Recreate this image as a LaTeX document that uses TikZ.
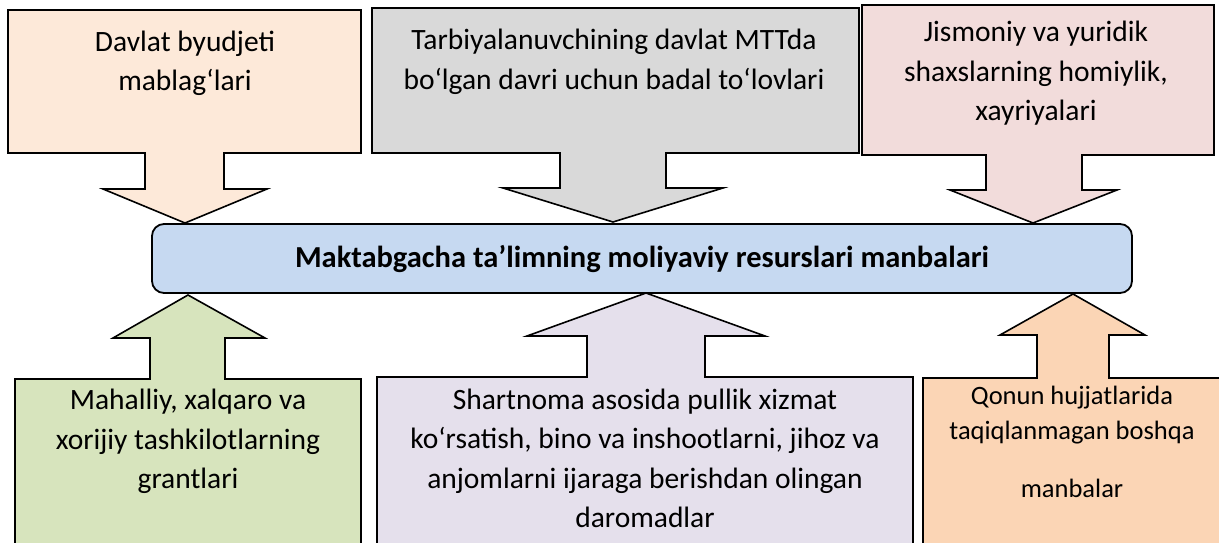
\documentclass[tikz,border=0pt]{standalone}
\usepackage{fontspec}
\setmainfont{Carlito}
\usepackage{tikz}
\usetikzlibrary{positioning}
\definecolor{peach}{HTML}{FDE9D9}
\definecolor{greybox}{HTML}{D9D9D9}
\definecolor{rosebox}{HTML}{F2DCDB}
\definecolor{mainblue}{HTML}{C6D9F1}
\definecolor{greenbox}{HTML}{D7E4BD}
\definecolor{lilacbox}{HTML}{E5E0EC}
\definecolor{orangebox}{HTML}{FBD5B5}
\tikzset{%
  outline/.style={draw, line width=1.6pt, line join=miter},
  srctext/.style={align=center, inner sep=0pt, anchor=north, font=\fontsize{29.5}{39.5}\selectfont},
  smalltext/.style={srctext, font=\fontsize{26.5}{35}\selectfont},
  mainblock/.style={rectangle, draw, line width=1.8pt, rounded corners=12pt, fill=mainblue, minimum width=980pt, minimum height=69pt, font=\fontsize{30.5}{36}\selectfont\bfseries}}

\begin{document}
\begin{tikzpicture}[x=1pt, y=-1pt]
    \useasboundingbox (0,0) rectangle (1219,543);
    \clip (0,0) rectangle (1219,543);
    % Top row: sources pointing down
    \draw[outline, fill=peach] (8,10) -- (361,10) -- (361,153) -- (224,153) -- (224,189) -- (267,189) -- (185,223) -- (103,189) -- (145,189) -- (145,153) -- (8,153) -- cycle;
    \draw[outline, fill=greybox] (372,8) -- (859,8) -- (859,153) -- (666,153) -- (666,188) -- (723,188) -- (613,222) -- (503,188) -- (560,188) -- (560,153) -- (372,153) -- cycle;
    \draw[outline, fill=rosebox] (862,5) -- (1214,5) -- (1214,155) -- (1082,155) -- (1082,190) -- (1117,190) -- (1033,223) -- (950,190) -- (986,190) -- (986,155) -- (862,155) -- cycle;
    % Bottom row: sources pointing up
    \draw[outline, fill=greenbox] (15,560) -- (15,379) -- (150,379) -- (150,338) -- (113,338) -- (188,295) -- (265,338) -- (225,338) -- (225,379) -- (361,379) -- (361,560);
    \draw[outline, fill=lilacbox] (377,560) -- (377,377) -- (587,377) -- (587,336) -- (527,336) -- (646,293) -- (765,336) -- (705,336) -- (705,377) -- (913,377) -- (913,560);
    \draw[outline, fill=orangebox] (923,560) -- (923,378) -- (1037,378) -- (1037,335) -- (1000,335) -- (1073,294) -- (1145,335) -- (1109,335) -- (1109,378) -- (1223,378) -- (1223,560);
    % Centre block
    \node (main) [mainblock] at (642,258.5) {Maktabgacha ta’limning moliyaviy resurslari manbalari};
    % Texts
    \node (budget) [srctext] at (185,30.5) {Davlat byudjeti\\mablag‘lari};
    \node (fees) [srctext] at (614,29) {Tarbiyalanuvchining davlat MTTda\\bo‘lgan davri uchun badal to‘lovlari};
    \node (sponsor) [srctext] at (1036,21) {Jismoniy va yuridik\\shaxslarning homiylik,\\xayriyalari};
    \node (grants) [srctext] at (188,389) {Mahalliy, xalqaro va\\xorijiy tashkilotlarning\\grantlari};
    \node (income) [srctext] at (645,388.5) {Shartnoma asosida pullik xizmat\\ko‘rsatish, bino va inshootlarni, jihoz va\\anjomlarni ijaraga berishdan olingan\\daromadlar};
    \node (other) [smalltext] at (1072,386) {Qonun hujjatlarida\\taqiqlanmagan boshqa\\[23pt]manbalar};
\end{tikzpicture}
\end{document}
